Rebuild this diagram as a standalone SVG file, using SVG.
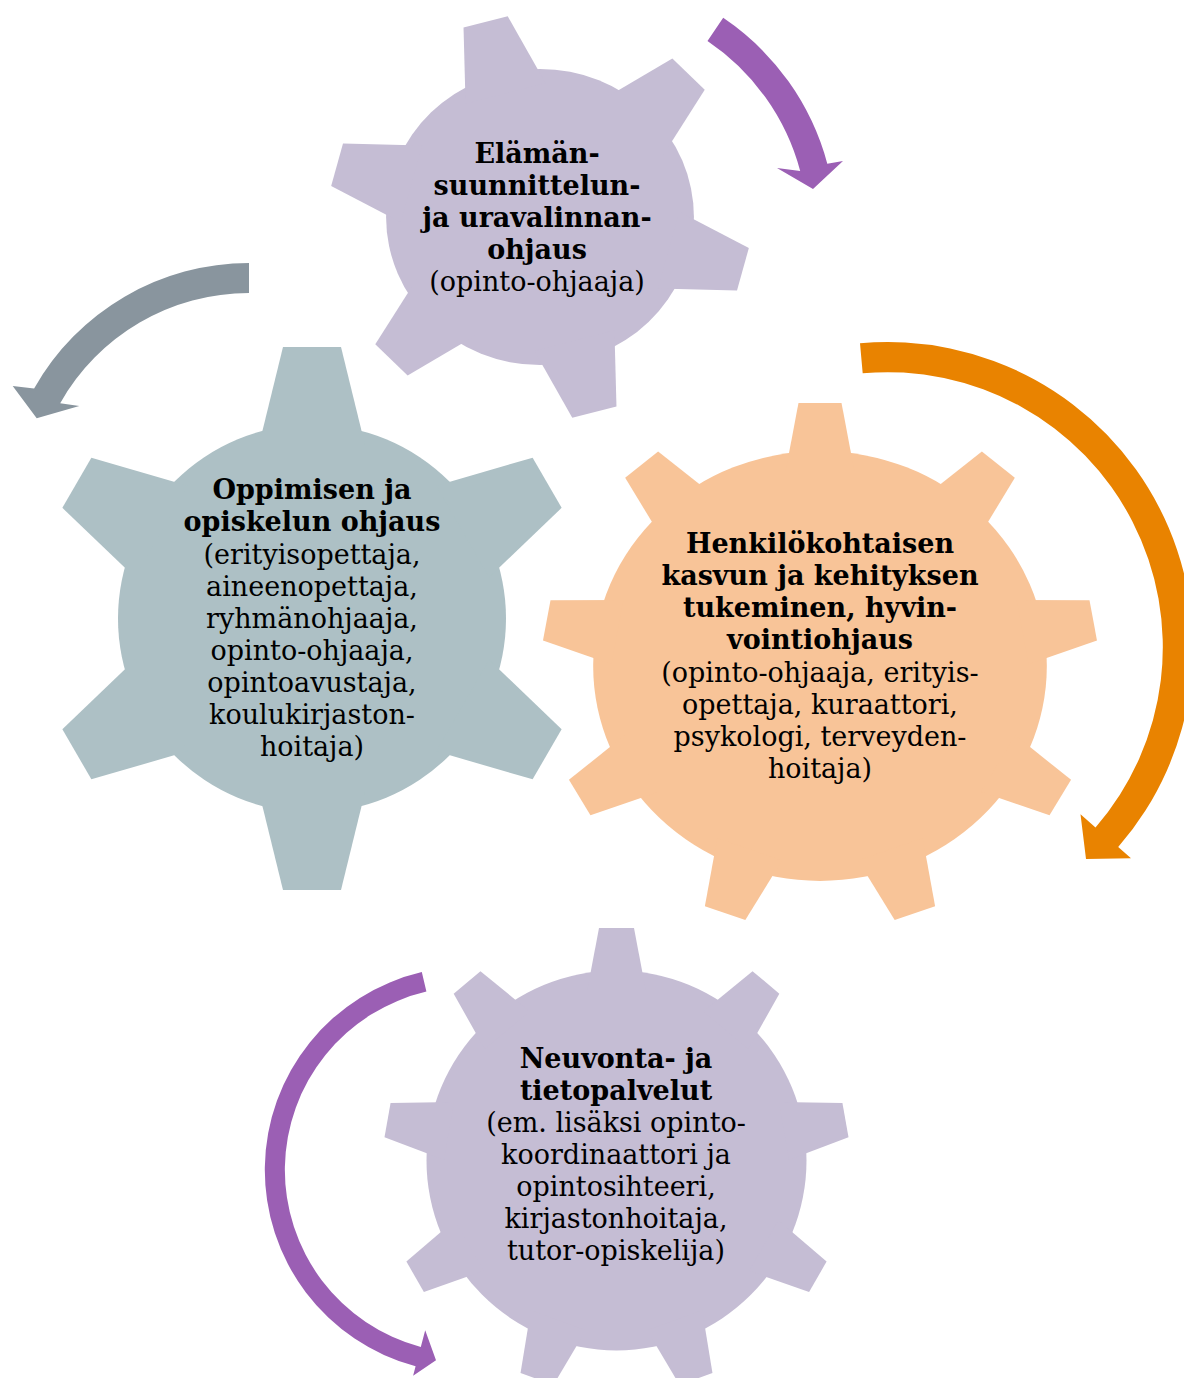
<svg xmlns="http://www.w3.org/2000/svg" xmlns:xlink="http://www.w3.org/1999/xlink" width="1184" height="1378" viewBox="0 0 1184 1378">
<style>
.t{font-family:"DejaVu Serif","Liberation Serif",serif;font-size:27px;text-anchor:middle;fill:#000}
.b{font-weight:bold}
</style>
<defs>
<polygon id="tooth1" points="-39.8,-128 -22,-202 22,-202 39.8,-128"/>
<polygon id="tooth2" points="-52.9,-174 -29,-271.5 29,-271.5 52.9,-174"/>
<polygon id="tooth3" points="-32.6,-195 -20.4,-263 20.4,-263 32.6,-195"/>
<polygon id="tooth4" points="-29.3,-170 -17.5,-232.5 17.5,-232.5 29.3,-170"/>
</defs>
<rect width="1184" height="1378" fill="#fff"/>

<g id="gear-elamansuunnittelu">
<g transform="translate(540,217) scale(1.04,1)" fill="#C5BDD4">
<circle r="148"/>
<use href="#tooth1" transform="rotate(-15)"/>
<use href="#tooth1" transform="rotate(45)"/>
<use href="#tooth1" transform="rotate(105)"/>
<use href="#tooth1" transform="rotate(165)"/>
<use href="#tooth1" transform="rotate(225)"/>
<use href="#tooth1" transform="rotate(285)"/>
</g>
<text class="t b" x="537" y="163">Elämän-</text>
<text class="t b" x="537" y="195">suunnittelun-</text>
<text class="t b" x="537" y="227">ja uravalinnan-</text>
<text class="t b" x="537" y="259">ohjaus</text>
<text class="t" x="537" y="291">(opinto-ohjaaja)</text>
</g>

<g id="gear-oppiminen">
<g transform="translate(312,618.5)" fill="#ADC0C5">
<circle r="194"/>
<use href="#tooth2" transform="rotate(0)"/>
<use href="#tooth2" transform="rotate(60)"/>
<use href="#tooth2" transform="rotate(120)"/>
<use href="#tooth2" transform="rotate(180)"/>
<use href="#tooth2" transform="rotate(240)"/>
<use href="#tooth2" transform="rotate(300)"/>
</g>
<text class="t b" x="312" y="499">Oppimisen ja</text>
<text class="t b" x="312" y="531">opiskelun ohjaus</text>
<text class="t" x="312" y="564">(erityisopettaja,</text>
<text class="t" x="312" y="596">aineenopettaja,</text>
<text class="t" x="312" y="628">ryhmänohjaaja,</text>
<text class="t" x="312" y="660">opinto-ohjaaja,</text>
<text class="t" x="312" y="692">opintoavustaja,</text>
<text class="t" x="312" y="724">koulukirjaston-</text>
<text class="t" x="312" y="756">hoitaja)</text>
</g>

<g id="gear-henkilokohtainen">
<g transform="translate(820,666) scale(1.055,1)" fill="#F8C498">
<circle r="215"/>
<use href="#tooth3" transform="rotate(0)"/>
<use href="#tooth3" transform="rotate(40)"/>
<use href="#tooth3" transform="rotate(80)"/>
<use href="#tooth3" transform="rotate(120)"/>
<use href="#tooth3" transform="rotate(160)"/>
<use href="#tooth3" transform="rotate(200)"/>
<use href="#tooth3" transform="rotate(240)"/>
<use href="#tooth3" transform="rotate(280)"/>
<use href="#tooth3" transform="rotate(320)"/>
</g>
<text class="t b" x="820" y="553">Henkilökohtaisen</text>
<text class="t b" x="820" y="585">kasvun ja kehityksen</text>
<text class="t b" x="820" y="617">tukeminen, hyvin-</text>
<text class="t b" x="820" y="649">vointiohjaus</text>
<text class="t" x="820" y="682">(opinto-ohjaaja, erityis-</text>
<text class="t" x="820" y="714">opettaja, kuraattori,</text>
<text class="t" x="820" y="746">psykologi, terveyden-</text>
<text class="t" x="820" y="778">hoitaja)</text>
</g>

<g id="gear-neuvonta">
<g transform="translate(616.5,1160.5)" fill="#C5BDD4">
<circle r="190"/>
<use href="#tooth4" transform="rotate(0)"/>
<use href="#tooth4" transform="rotate(40)"/>
<use href="#tooth4" transform="rotate(80)"/>
<use href="#tooth4" transform="rotate(120)"/>
<use href="#tooth4" transform="rotate(160)"/>
<use href="#tooth4" transform="rotate(200)"/>
<use href="#tooth4" transform="rotate(240)"/>
<use href="#tooth4" transform="rotate(280)"/>
<use href="#tooth4" transform="rotate(320)"/>
</g>
<text class="t b" x="616" y="1068">Neuvonta- ja</text>
<text class="t b" x="616" y="1100">tietopalvelut</text>
<text class="t" x="616" y="1132">(em. lisäksi opinto-</text>
<text class="t" x="616" y="1164">koordinaattori ja</text>
<text class="t" x="616" y="1196">opintosihteeri,</text>
<text class="t" x="616" y="1228">kirjastonhoitaja,</text>
<text class="t" x="616" y="1260">tutor-opiskelija)</text>
</g>

<g id="connectors">
<path id="arrow-top" fill="#9B5FB4" d="M723.2,17.8 A256,256 0 0 1 827.3,163.7 L843,161 L813,189 L777,168 L800.2,171 A228,228 0 0 0 707.5,41 Z"/>
<path id="arrow-left" fill="#89959E" d="M249,263 A247,247 0 0 0 34.1,388.5 L12.7,386 L36.7,418.3 L79.3,406 L60.2,403.2 A217,217 0 0 1 249,293 Z"/>
<path id="arrow-right" fill="#E98300" d="M860,343.3 A305,305 0 0 1 1118.2,847.1 L1131,858.2 L1086,859 L1080.5,814.3 L1095.5,827.4 A275,275 0 0 0 862.7,373.3 Z"/>
<path id="arrow-bottom" fill="#9B5FB4" d="M421.8,972.1 A203.2,203.2 0 0 0 415.6,1366.3 L413.1,1375.7 L436,1360.3 L425.2,1330.3 L420.8,1347 A183.2,183.2 0 0 1 426.4,991.6 Z"/>
</g>
</svg>
